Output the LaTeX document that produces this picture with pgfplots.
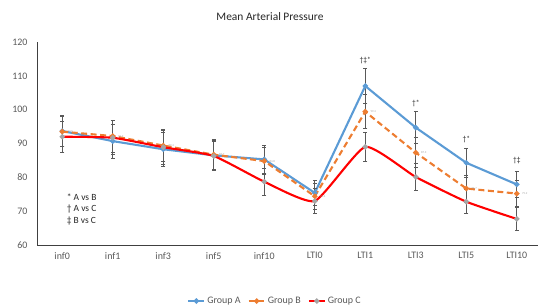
\documentclass[border=0pt]{standalone}
\usepackage{pgfplots}
\pgfplotsset{compat=1.18}
\usepackage{pgfplotstable}
\usepackage{fontspec}
\setmainfont{Carlito}

\definecolor{gA}{RGB}{91,155,213}
\definecolor{gB}{RGB}{237,125,49}
\definecolor{gC}{RGB}{255,0,0}
\definecolor{mk}{RGB}{165,165,165}
\definecolor{eb}{RGB}{89,89,89}
\definecolor{tx}{RGB}{89,89,89}

\pgfplotstableread{
x A eA B eB C eC
0 93.7 4.6 93.5 4.5 92.0 4.5
1 90.7 5.0 92.2 4.7 91.7 5.0
2 88.3 5.0 89.4 4.8 88.9 5.0
3 86.5 4.5 86.7 4.5 86.3 4.3
4 85.3 4.0 84.8 4.0 78.7 4.0
5 75.4 3.8 74.4 3.8 73.0 3.8
6 107.0 5.2 99.4 5.0 89.0 4.4
7 94.7 4.7 87.3 4.5 80.1 4.1
8 84.3 4.2 76.7 4.0 72.8 3.6
9 77.9 3.9 75.2 3.8 67.7 3.4
}\data

\begin{document}
\begin{tikzpicture}
\useasboundingbox (-37bp,-63bp) rectangle (501bp,245bp);
\begin{axis}[
  at={(0,0)}, anchor=south west,
  scale only axis, width=501bp, height=203bp,
  xmin=-0.5, xmax=9.42, ymin=60, ymax=120,
  ytick={60,70,...,120},
  xtick={0,...,9},
  xticklabels={inf0,inf1,inf3,inf5,inf10,LTI0,LTI1,LTI3,LTI5,LTI10},
  axis lines=left, axis line style={-, draw=black!75, line width=0.8pt},
  major tick length=0pt,
  ticklabel style={font=\fontsize{10}{12}\selectfont, text=tx},
  yticklabel style={xshift=-6bp},
  xticklabel style={yshift=-4bp},
  /pgf/number format/assume math mode=true,
  clip=false,
  legend style={at={(0.475,-0.276)}, anchor=center, draw=none, fill=none,
    legend columns=3, font=\fontsize{10}{12}\selectfont, text=tx,
    /tikz/every even column/.append style={column sep=5bp},
    inner sep=0pt},
  legend image code/.code={\draw[mark repeat=2,mark phase=2] plot coordinates {(0bp,0bp)(8bp,0bp)(16bp,0bp)};},
  error bars/y dir=both, error bars/y explicit,
  error bars/error bar style={eb, line width=0.8pt, solid},
  error bars/error mark options={rotate=90, mark size=2bp, eb, line width=0.8pt, solid},
]
\addplot[gA, line width=2.1pt, mark=*, mark size=1.5bp, mark options={solid, fill=gA, draw=gA}]
  table[x=x, y=A, y error=eA] {\data};
\addlegendentry{Group A}
\addplot[gB, line width=2.1pt, dashed, dash pattern=on 6bp off 3.5bp, mark=*, mark size=1.5bp, mark options={solid, fill=gB, draw=gB},
  nodes near coords, every node near coord/.append style={font=\fontsize{3}{3}\selectfont, text=mk, anchor=west, xshift=1bp},
  /pgf/number format/.cd, fixed, precision=1]
  table[x=x, y=B, y error=eB] {\data};
\addlegendentry{Group B}
\addplot[gC, line width=2.1pt, smooth, tension=0.3, mark=*, mark size=1.5bp, mark options={solid, fill=mk, draw=mk}]
  table[x=x, y=C, y error=eC] {\data};
\addlegendentry{Group C}

\node[font=\fontsize{11.5}{13}\selectfont, text=black!85] at (rel axis cs:0.465,1.123) {Mean Arterial Pressure};
\node[font=\fontsize{9.5}{11}\selectfont, text=black!85, anchor=west] at (axis cs:0.02,74.0) {* A vs B};
\node[font=\fontsize{9.5}{11}\selectfont, text=black!85, anchor=west] at (axis cs:0.02,70.5) {† A vs C};
\node[font=\fontsize{9.5}{11}\selectfont, text=black!85, anchor=west] at (axis cs:0.02,67.0) {‡ B vs C};
\node[font=\fontsize{7.5}{9}\selectfont, text=black!85] at (axis cs:6,114.4) {†‡*};
\node[font=\fontsize{7.5}{9}\selectfont, text=black!85] at (axis cs:7,101.9) {†*};
\node[font=\fontsize{7.5}{9}\selectfont, text=black!85] at (axis cs:8,91.2) {†*};
\node[font=\fontsize{7.5}{9}\selectfont, text=black!85] at (axis cs:9,85.0) {†‡};
\end{axis}
\end{tikzpicture}
\end{document}
